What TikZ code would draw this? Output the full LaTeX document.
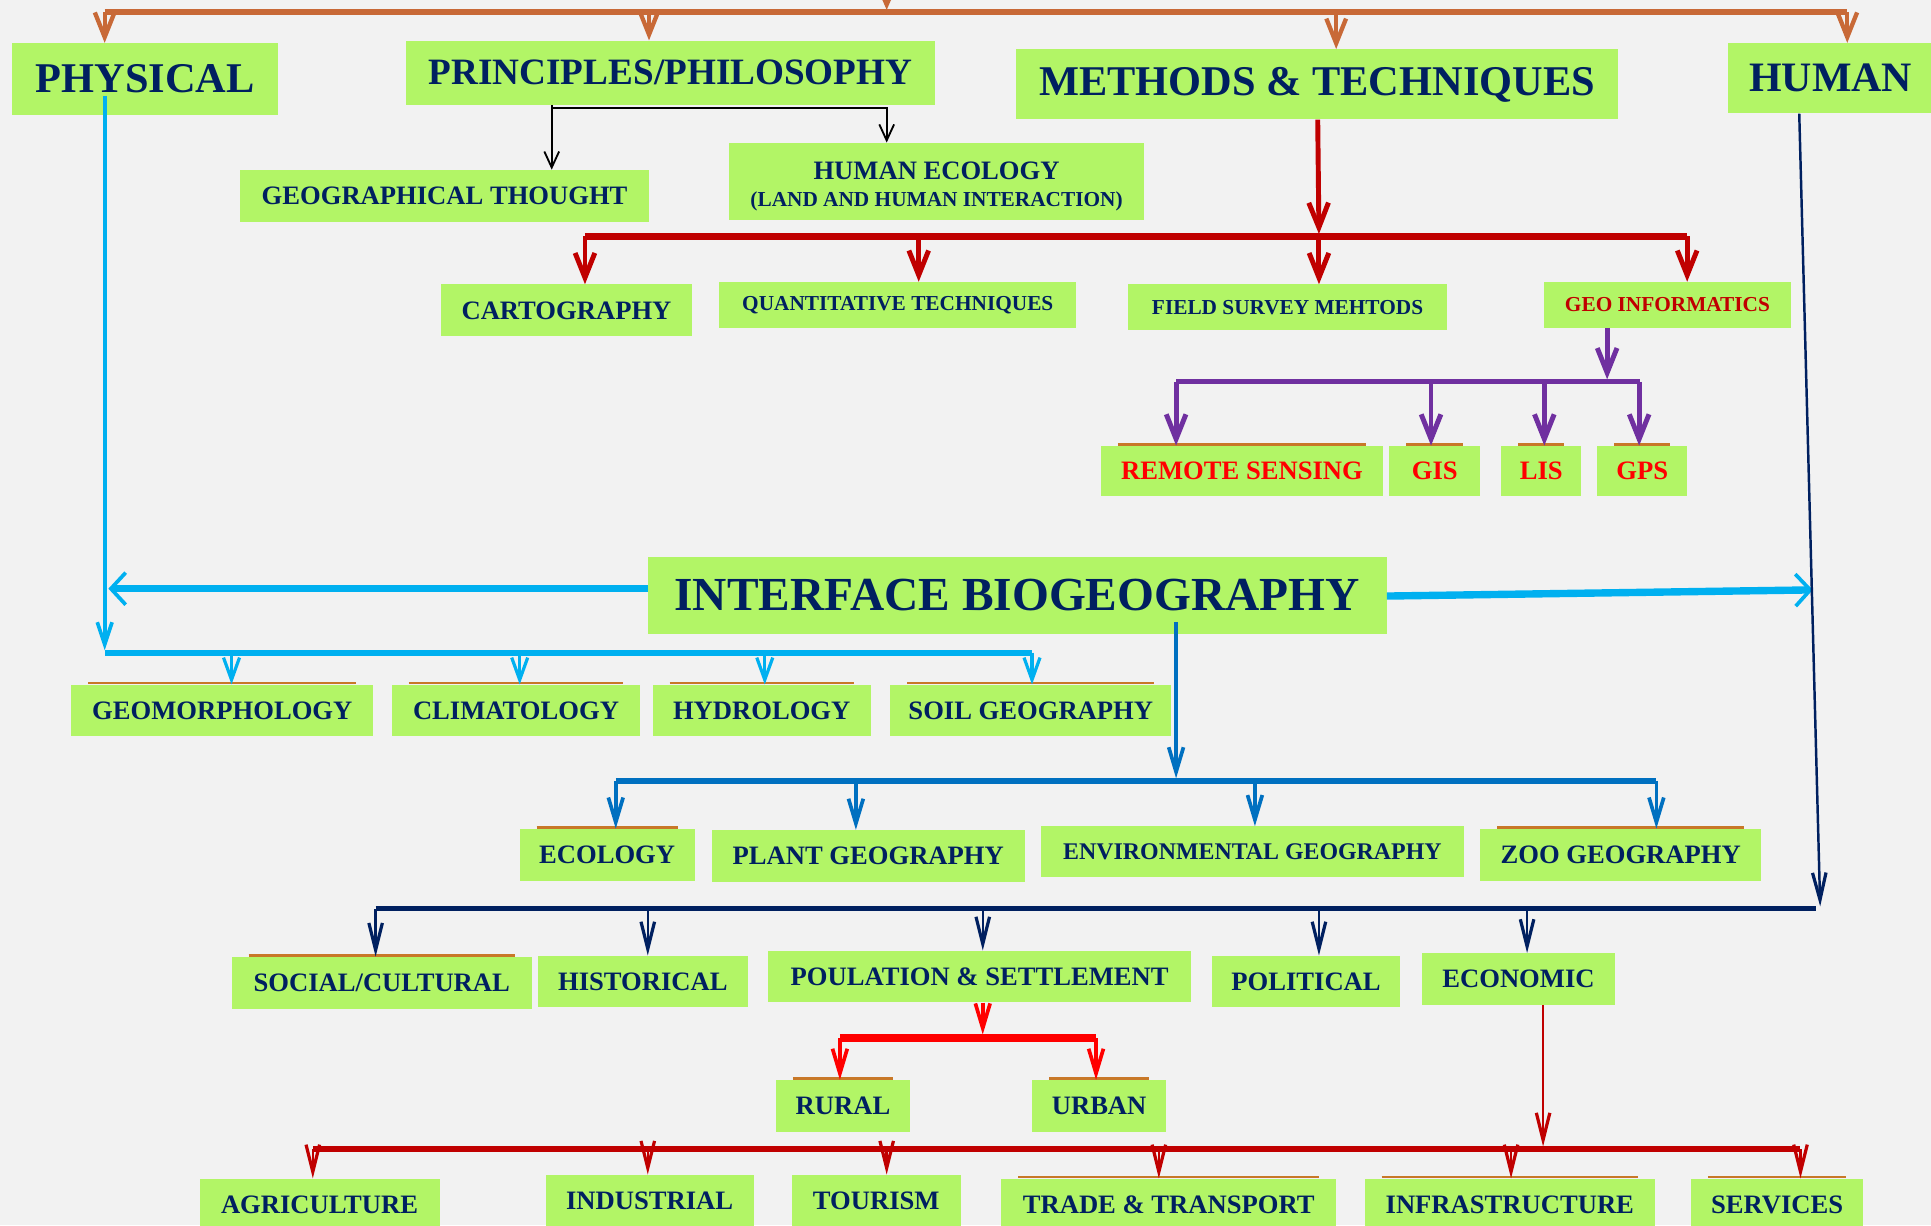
\documentclass[tikz,border=0pt]{standalone}
\usepackage{fontspec}
\setmainfont{Liberation Serif}
\usepackage{tikz}
\usetikzlibrary{arrows.meta, calc}

\definecolor{bg}{RGB}{242,242,242}
\definecolor{boxgreen}{RGB}{178,245,102}
\definecolor{ink}{RGB}{0,32,96}
\definecolor{rust}{RGB}{200,105,55}
\definecolor{darkred}{RGB}{192,0,0}
\definecolor{brightred}{RGB}{255,0,0}
\definecolor{geopurple}{RGB}{112,48,160}
\definecolor{skyblue}{RGB}{0,176,240}
\definecolor{midblue}{RGB}{0,112,192}
\definecolor{rimorange}{RGB}{200,120,40}

\tikzset{
  box/.style={fill=boxgreen,text=ink,inner sep=0pt,align=center,
    font=\fontsize{21.6}{24}\selectfont\bfseries},
  wh/.style 2 args={minimum width=#1pt,minimum height=#2pt},
  fsz/.style={font=\fontsize{#1}{#1}\selectfont\bfseries},
  rim/.style={draw=rimorange,line width=2pt},
  tip/.style 2 args={-{Straight Barb[length=#1pt,width=#2pt]}},
  thintip/.style 2 args={-{Straight Barb[length=#1pt,width=#2pt,line width=2.6pt]}},
}

\begin{document}
\begin{tikzpicture}[x=1pt,y=-1pt]
\useasboundingbox (0,0) rectangle (1568,995);
\fill[bg] (0,0) rectangle (1568,995);
\clip (0,0) rectangle (1568,995);

\node[box,fsz=34.4,wh={216}{58}] (phys) at (118,64) {PHYSICAL};
\node[box,fsz=30.2,wh={429}{52}] (phil) at (544.5,59) {PRINCIPLES/PHILOSOPHY};
\node[box,fsz=34.4,wh={489}{57}] (meth) at (1069.5,68.5) {METHODS \& TECHNIQUES};
\node[box,fsz=34,wh={167}{57}] (human) at (1486.5,63.5) {HUMAN};

\node[box,wh={332}{42}] (gthought) at (361,159) {GEOGRAPHICAL THOUGHT};
\node[box,font=\fontsize{17.3}{21.6}\selectfont\bfseries,wh={337}{63}] (hecol) at (760.5,147.5)
  {\rule{0pt}{22pt}{\fontsize{21.6}{21.6}\selectfont HUMAN ECOLOGY}\\(LAND AND HUMAN INTERACTION)};

\node[box,wh={204}{42}] (carto) at (460,252) {CARTOGRAPHY};
\node[box,fsz=17.3,wh={290}{37}] (quant) at (729,247.5) {QUANTITATIVE TECHNIQUES};
\node[box,fsz=17.3,wh={259}{37}] (field) at (1045.5,249.5) {FIELD SURVEY MEHTODS};
\node[box,fsz=17.3,wh={200}{37},text=darkred] (geoinf) at (1354,247.5) {GEO INFORMATICS};

\node[box,wh={229}{41},text=brightred] (rs) at (1008.5,382.5) {REMOTE SENSING};
\node[box,wh={74}{41},text=brightred] (gis) at (1165,382.5) {GIS};
\node[box,wh={65}{41},text=brightred] (lis) at (1251.5,382.5) {LIS};
\node[box,wh={73}{41},text=brightred] (gps) at (1333.5,382.5) {GPS};

\node[box,fsz=38.5,wh={600}{63}] (iface) at (826,483.5) {INTERFACE BIOGEOGRAPHY};

\node[box,wh={245}{42}] (geomorph) at (180.5,577) {GEOMORPHOLOGY};
\node[box,wh={202}{42}] (clim) at (419,577) {CLIMATOLOGY};
\node[box,wh={177}{42}] (hydro) at (618.5,577) {HYDROLOGY};
\node[box,wh={228}{42}] (soil) at (837,577) {SOIL GEOGRAPHY};

\node[box,wh={142}{42}] (ecol) at (493,694) {ECOLOGY};
\node[box,wh={254}{42}] (plant) at (705,695) {PLANT GEOGRAPHY};
\node[box,fsz=19.4,wh={344}{41}] (env) at (1017,691.5) {ENVIRONMENTAL GEOGRAPHY};
\node[box,wh={228}{42}] (zoo) at (1316,694) {ZOO GEOGRAPHY};

\node[box,wh={244}{42}] (social) at (310,798) {SOCIAL/CULTURAL};
\node[box,wh={170}{42}] (hist) at (522,797) {HISTORICAL};
\node[box,wh={343}{42}] (pop) at (795.5,793) {POULATION \& SETTLEMENT};
\node[box,wh={153}{42}] (polit) at (1060.5,797) {POLITICAL};
\node[box,wh={156}{42}] (econ) at (1233,795) {ECONOMIC};

\node[box,wh={109}{42}] (rural) at (684.5,898) {RURAL};
\node[box,wh={109}{42}] (urban) at (892.5,898) {URBAN};

\node[box,wh={195}{42}] (agri) at (259.5,978) {AGRICULTURE};
\node[box,wh={169}{42}] (indus) at (527.5,975) {INDUSTRIAL};
\node[box,wh={137}{42}] (tour) at (711.5,975) {TOURISM};
\node[box,wh={272}{42}] (trade) at (949,978) {TRADE \& TRANSPORT};
\node[box,wh={236}{42}] (infra) at (1226,978) {INFRASTRUCTURE};
\node[box,wh={140}{42}] (serv) at (1443,978) {SERVICES};

\foreach \n in {rs,gis,lis,gps,geomorph,clim,hydro,soil,ecol,zoo,social,rural,urban,trade,infra,serv}
  \draw[rim] ([xshift=14pt,yshift=1pt]\n.north west) -- ([xshift=-14pt,yshift=1pt]\n.north east);

\coordinate (top) at (720,-30);
\draw[rust,line width=5pt] (85,10) -- (1500,10);
\draw[rust,line width=3pt,tip={16}{14}] (top) -- (720,8);
\foreach \x/\n in {85/phys,527/phil,1085/meth,1500/human}
  \draw[rust,line width=3.5pt,tip={20}{16}] (\x,10) -- (\x,10 |- \n.north);

\draw[black,line width=1.5pt,tip={13}{12}] (448,0 |- phil.south) -- (448,0 |- gthought.north);
\draw[black,line width=1.5pt,tip={13}{12}] (448,88) -- (720,88) -- (720,0 |- hecol.north);

\draw[darkred,line width=4pt,tip={20}{16}] (1070,0 |- meth.south) -- (1071,190);
\draw[darkred,line width=5pt] (475,192) -- (1370,192);
\foreach \x/\n in {475/carto,746/quant,1071/field,1370/geoinf}
  \draw[darkred,line width=4pt,tip={20}{16}] (\x,192) -- (\x,0 |- \n.north);

\draw[geopurple,line width=4pt,tip={20}{16}] (1305,0 |- geoinf.south) -- (1305,308);
\draw[geopurple,line width=4pt] (955,310) -- (1332,310);
\foreach \x/\n in {955/rs,1162/gis,1254/lis,1331/gps}
  \draw[geopurple,line width=4pt,tip={20}{16}] (\x,310) -- (\x,0 |- \n.north);

\draw[skyblue,line width=3pt,tip={18}{12}] ($(phys.south)+(-33,-15)$) -- (85,528);
\draw[skyblue,line width=6pt,-{Straight Barb[length=12pt,width=26pt,line width=3pt]}] (iface.west |- 0,478) -- (88,478);
\draw[skyblue,line width=6pt,-{Straight Barb[length=12pt,width=26pt,line width=3pt]}] (iface.east |- 0,484) -- (1472,479);
\draw[skyblue,line width=5pt] (85,530) -- (838,530);
\foreach \x/\n in {188/geomorph,422/clim,621/hydro,838/soil}
  \draw[skyblue,line width=2.5pt,thintip={18}{13}] (\x,530) -- (\x,0 |- \n.north);

\draw[midblue,line width=3pt,tip={20}{12}] ($(iface.south)+(129,-10)$) -- (955,632);
\draw[midblue,line width=5pt] (500,634) -- (1345,634);
\foreach \x/\n in {500/ecol,695/plant,1019/env,1345/zoo}
  \draw[midblue,line width=3pt,tip={20}{12}] (\x,634) -- (\x,0 |- \n.north);

\draw[ink,line width=2pt,thintip={22}{11}] (1461,0 |- human.south) -- (1478,736);
\draw[ink,line width=4pt] (305,738) -- (1475,738);
\foreach \x/\n in {305/social,526/hist,798/pop,1071/polit,1240/econ}
  \draw[ink,line width=2pt,thintip={22}{11}] (\x,738) -- (\x,0 |- \n.north);

\draw[brightred,line width=3pt,tip={20}{12}] (798,0 |- pop.south) -- (798,840);
\draw[brightred,line width=7pt] (682,843) -- (890,843);
\foreach \x/\n in {682/rural,890/urban}
  \draw[brightred,line width=3pt,tip={20}{12}] (\x,843) -- (\x,0 |- \n.north);

\draw[darkred,line width=2pt,thintip={22}{11}] (1253,0 |- econ.south) -- (1253,931);
\draw[darkred,line width=5pt] (254,933) -- (1462,933);
\foreach \x/\n in {254/agri,526/indus,720/tour,941/trade,1227/infra,1462/serv}
  \draw[darkred,line width=2pt,thintip={22}{11}] (\x,933) -- (\x,0 |- \n.north);
\end{tikzpicture}
\end{document}
